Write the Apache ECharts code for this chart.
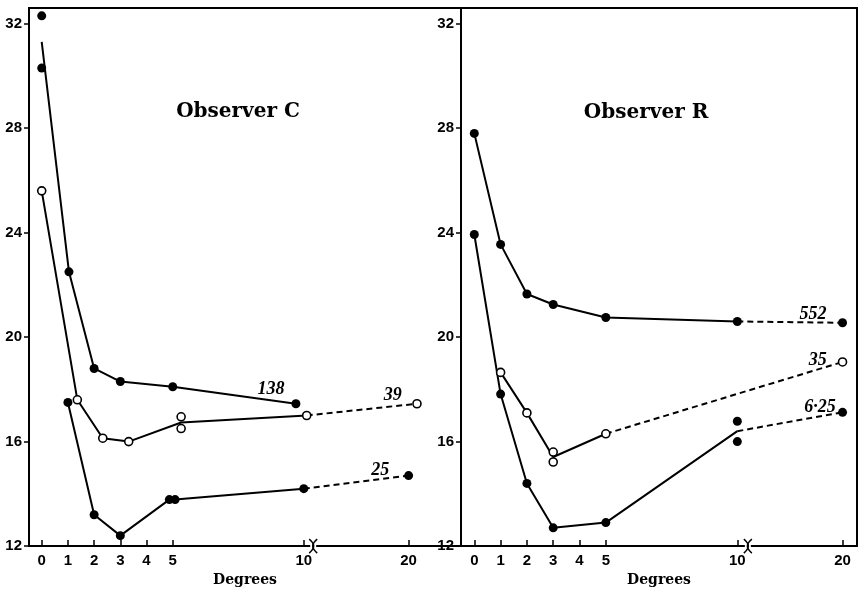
<!DOCTYPE html>
<html><head><meta charset="utf-8">
<script src="https://cdn.jsdelivr.net/npm/echarts@6/dist/echarts.min.js"></script>
<style>html,body{margin:0;padding:0;background:#fff}#c{width:860px;height:592px}</style>
</head><body><div id="c"></div>
<script>
// ---------- tick labels ----------
const xTickDegrees = [0, 1, 2, 3, 4, 5, 10, 20];
const yTicks = [12, 16, 20, 24, 28, 32];

// ---------- Observer C ----------
// curve "138" (filled)
const c138PointsX = [0, 0, 1.04, 2, 3, 5, 9.7];
const c138PointsY = [32.3, 30.3, 22.5, 18.8, 18.3, 18.1, 17.45];
const c138LineX = [0, 1.04, 2, 3, 5, 9.7];
const c138LineY = [31.3, 22.5, 18.8, 18.3, 18.1, 17.45];
// curve "39" (open)
const c39PointsX = [0, 1.36, 2.33, 3.32, 5.32, 5.32, 10.28, 20.8];
const c39PointsY = [25.6, 17.6, 16.13, 16.0, 16.95, 16.5, 17.0, 17.45];
const c39LineX = [0, 1.36, 2.33, 3.32, 5.32, 10.28];
const c39LineY = [25.6, 17.6, 16.13, 16.0, 16.73, 17.0];
const c39DashX = [10.28, 20.8];
const c39DashY = [17.0, 17.45];
// curve "25" (filled)
const c25PointsX = [1, 2, 3, 4.87, 5.09, 10, 20];
const c25PointsY = [17.5, 13.2, 12.4, 13.78, 13.78, 14.2, 14.7];
const c25LineX = [1, 2, 3, 4.87, 5.09, 10];
const c25LineY = [17.5, 13.2, 12.4, 13.78, 13.78, 14.2];
const c25DashX = [10, 20];
const c25DashY = [14.2, 14.7];

// ---------- Observer R ----------
// curve "552" (filled)
const r552PointsX = [0, 1, 2, 3, 5, 10, 20];
const r552PointsY = [27.8, 23.55, 21.65, 21.25, 20.75, 20.6, 20.55];
const r552LineX = [0, 1, 2, 3, 5, 10];
const r552LineY = [27.8, 23.55, 21.65, 21.25, 20.75, 20.6];
const r552DashX = [10, 20];
const r552DashY = [20.6, 20.55];
// curve "35" (open)
const r35PointsX = [1, 2, 3, 3, 5, 20];
const r35PointsY = [18.65, 17.1, 15.6, 15.22, 16.3, 19.05];
const r35LineX = [1, 2, 3, 5];
const r35LineY = [18.65, 17.1, 15.41, 16.3];
const r35DashX = [5, 20];
const r35DashY = [16.3, 19.05];
// curve "6·25" (filled)
const r625PointsX = [0, 1, 2, 3, 5, 10, 10, 20];
const r625PointsY = [23.93, 17.82, 14.4, 12.7, 12.9, 16.78, 16.0, 17.12];
const r625LineX = [0, 1, 2, 3, 5, 10];
const r625LineY = [23.93, 17.82, 14.4, 12.7, 12.9, 16.4];
const r625DashX = [10, 20];
const r625DashY = [16.4, 17.12];

// curve labels: text, panel, degrees, value
const curveLabels = [
  ['138', 0, 8.75, 18.0],
  ['39', 0, 18.5, 17.76],
  ['25', 0, 17.3, 14.9],
  ['552', 1, 17.2, 20.86],
  ['35', 1, 17.65, 19.11],
  ['6·25', 1, 17.85, 17.32]
];
// panel titles: text, panel, degrees, value
const panelTitles = [
  ['Observer C', 0, 7.49, 28.64],
  ['Observer R', 1, 6.53, 28.58]
];

// broken axis: 10..20 compressed
function toPos(d) { return d <= 10 ? d : 10 + (d - 10) * 0.4; }
function pairs(xs, ys) { return xs.map((x, i) => [toPos(x), ys[i]]); }

const chart = echarts.init(document.getElementById('c'), null, {renderer: 'canvas'});

function lineS(g, xs, ys, dashed) {
  return {
    type: 'line', xAxisIndex: g, yAxisIndex: g, data: pairs(xs, ys),
    symbol: 'none', showSymbol: false, silent: true, z: 2,
    lineStyle: {color: '#000', width: 2, type: dashed ? [6, 4] : 'solid', opacity: 1},
    animation: false
  };
}
function markS(g, xs, ys, open) {
  return {
    type: 'scatter', xAxisIndex: g, yAxisIndex: g, data: pairs(xs, ys),
    symbol: 'circle', symbolSize: open ? 8 : 9, silent: true, z: 3,
    itemStyle: open ? {color: '#fff', borderColor: '#000', borderWidth: 1.6, opacity: 1} : {color: '#000', opacity: 1},
    animation: false
  };
}

const tickPos = xTickDegrees.map(toPos);
function xLabel(v) {
  for (let i = 0; i < tickPos.length; i++) if (Math.abs(tickPos[i] - v) < 1e-6) return String(xTickDegrees[i]);
  return '';
}

function xAxisDef(g, min, max) {
  return {
    type: 'value', gridIndex: g, min: min, max: max,
    name: 'Degrees', nameLocation: 'middle', nameGap: 25,
    nameTextStyle: {fontFamily: 'DejaVu Serif', fontWeight: 'bold', fontSize: 14, color: '#000'},
    axisLine: {show: true, onZero: false, lineStyle: {color: '#000', width: 2}},
    axisTick: {show: true, inside: true, length: 6, customValues: tickPos, lineStyle: {color: '#000', width: 1.5}},
    axisLabel: {customValues: tickPos, formatter: xLabel, margin: 7, color: '#000',
      fontFamily: 'Liberation Sans', fontWeight: 'bold', fontSize: 15},
    splitLine: {show: false}
  };
}
function yAxisDef(g) {
  return {
    type: 'value', gridIndex: g, min: 12, max: 32.6,
    axisLine: {show: true, onZero: false, lineStyle: {color: '#000', width: 2}},
    axisTick: {show: true, inside: false, length: 5, customValues: yTicks, lineStyle: {color: '#000', width: 1.5}},
    axisLabel: {customValues: yTicks, margin: 7, color: '#000',
      fontFamily: 'Liberation Sans', fontWeight: 'bold', fontSize: 15},
    splitLine: {show: false}
  };
}

chart.setOption({
  animation: false,
  backgroundColor: '#fff',
  grid: [
    {left: 29, top: 8, width: 432, height: 541, show: true, borderColor: '#000', borderWidth: 2},
    {left: 461, top: 8, width: 396, height: 541, show: true, borderColor: '#000', borderWidth: 2}
  ],
  xAxis: [xAxisDef(0, -0.485, 16.0), xAxisDef(1, -0.506, 14.55)],
  yAxis: [yAxisDef(0), yAxisDef(1)],
  series: [
    lineS(0, c138LineX, c138LineY, false), markS(0, c138PointsX, c138PointsY, false),
    lineS(0, c39LineX, c39LineY, false), lineS(0, c39DashX, c39DashY, true), markS(0, c39PointsX, c39PointsY, true),
    lineS(0, c25LineX, c25LineY, false), lineS(0, c25DashX, c25DashY, true), markS(0, c25PointsX, c25PointsY, false),
    lineS(1, r552LineX, r552LineY, false), lineS(1, r552DashX, r552DashY, true), markS(1, r552PointsX, r552PointsY, false),
    lineS(1, r35LineX, r35LineY, false), lineS(1, r35DashX, r35DashY, true), markS(1, r35PointsX, r35PointsY, true),
    lineS(1, r625LineX, r625LineY, false), lineS(1, r625DashX, r625DashY, true), markS(1, r625PointsX, r625PointsY, false)
  ]
});

// annotations placed through the axes
const gr = [];
curveLabels.forEach(([t, g, d, v]) => {
  const p = chart.convertToPixel({gridIndex: g}, [toPos(d), v]);
  gr.push({type: 'text', x: p[0], y: p[1], z: 10, style: {text: t, align: 'center', verticalAlign: 'middle',
    font: 'italic bold 18px "Liberation Serif"', fill: '#000'}});
});
panelTitles.forEach(([t, g, d, v]) => {
  const p = chart.convertToPixel({gridIndex: g}, [toPos(d), v]);
  gr.push({type: 'text', x: p[0], y: p[1], z: 10, style: {text: t, align: 'center', verticalAlign: 'middle',
    font: 'bold 20px "DejaVu Serif"', fill: '#000'}});
});
// axis break marks
[[0, 10.36], [1, 10.4]].forEach(([g, pos]) => {
  const p = chart.convertToPixel({gridIndex: g}, [pos, 12]);
  const cx = p[0], cy = p[1];
  gr.push({type: 'rect', z: 11, shape: {x: cx - 3, y: cy - 3, width: 6, height: 6}, style: {fill: '#fff'}});
  gr.push({type: 'bezierCurve', z: 12, shape: {x1: cx - 4, y1: cy - 7, x2: cx - 4, y2: cy + 7, cpx1: cx + 2, cpy1: cy - 2, cpx2: cx + 2, cpy2: cy + 2}, style: {stroke: '#000', lineWidth: 1.5, fill: null}});
  gr.push({type: 'bezierCurve', z: 12, shape: {x1: cx + 4, y1: cy - 7, x2: cx + 4, y2: cy + 7, cpx1: cx - 2, cpy1: cy - 2, cpx2: cx - 2, cpy2: cy + 2}, style: {stroke: '#000', lineWidth: 1.5, fill: null}});
});
chart.setOption({graphic: gr});
</script>
</body></html>
